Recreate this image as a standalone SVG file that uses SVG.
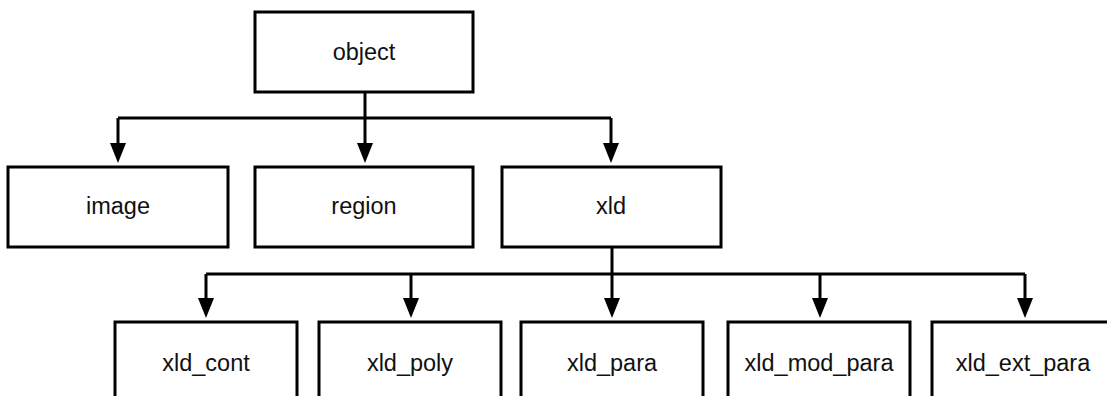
<svg xmlns="http://www.w3.org/2000/svg" width="1107" height="396" viewBox="0 0 1107 396">
<defs>
<style>
.box{fill:#fff;stroke:#000;stroke-width:3}
.lbl{font-family:"Liberation Sans",Arial,sans-serif;font-size:23.5px;fill:#111;text-anchor:middle}
.ln{fill:none;stroke:#000;stroke-width:3}
</style>
</defs>
<rect width="1107" height="396" fill="#fff"/>
<g id="connectors">
<path class="ln" d="M365,92 V118"/>
<path class="ln" d="M118,118 H611"/>
<path class="ln" d="M118,118 V143"/>
<polygon points="110,143 126,143 118,163"/>
<path class="ln" d="M365,118 V143"/>
<polygon points="357,143 373,143 365,163"/>
<path class="ln" d="M611,118 V143"/>
<polygon points="603,143 619,143 611,163"/>
<path class="ln" d="M612,247 V274"/>
<path class="ln" d="M206,274 H1025"/>
<path class="ln" d="M206,274 V298"/>
<polygon points="198,298 214,298 206,318"/>
<path class="ln" d="M411,274 V298"/>
<polygon points="403,298 419,298 411,318"/>
<path class="ln" d="M612,274 V298"/>
<polygon points="604,298 620,298 612,318"/>
<path class="ln" d="M820,274 V298"/>
<polygon points="812,298 828,298 820,318"/>
<path class="ln" d="M1025,274 V298"/>
<polygon points="1017,298 1033,298 1025,318"/>
</g>
<g id="object"><rect class="box" x="255" y="12" width="218" height="80"/><text class="lbl" x="364" y="60">object</text></g>
<g id="image"><rect class="box" x="8" y="167" width="220" height="80"/><text class="lbl" x="118" y="214">image</text></g>
<g id="region"><rect class="box" x="255" y="167" width="218" height="80"/><text class="lbl" x="364" y="214">region</text></g>
<g id="xld"><rect class="box" x="502" y="167" width="219" height="80"/><text class="lbl" x="611" y="214">xld</text></g>
<g id="xld_cont"><rect class="box" x="115" y="322" width="182" height="80"/><text class="lbl" x="206" y="371">xld_cont</text></g>
<g id="xld_poly"><rect class="box" x="319" y="322" width="182" height="80"/><text class="lbl" x="410" y="371">xld_poly</text></g>
<g id="xld_para"><rect class="box" x="521" y="322" width="182" height="80"/><text class="lbl" x="612" y="371">xld_para</text></g>
<g id="xld_mod_para"><rect class="box" x="728" y="322" width="182" height="80"/><text class="lbl" x="819" y="371">xld_mod_para</text></g>
<g id="xld_ext_para"><rect class="box" x="932" y="322" width="182" height="80"/><text class="lbl" x="1023" y="371">xld_ext_para</text></g>
</svg>
